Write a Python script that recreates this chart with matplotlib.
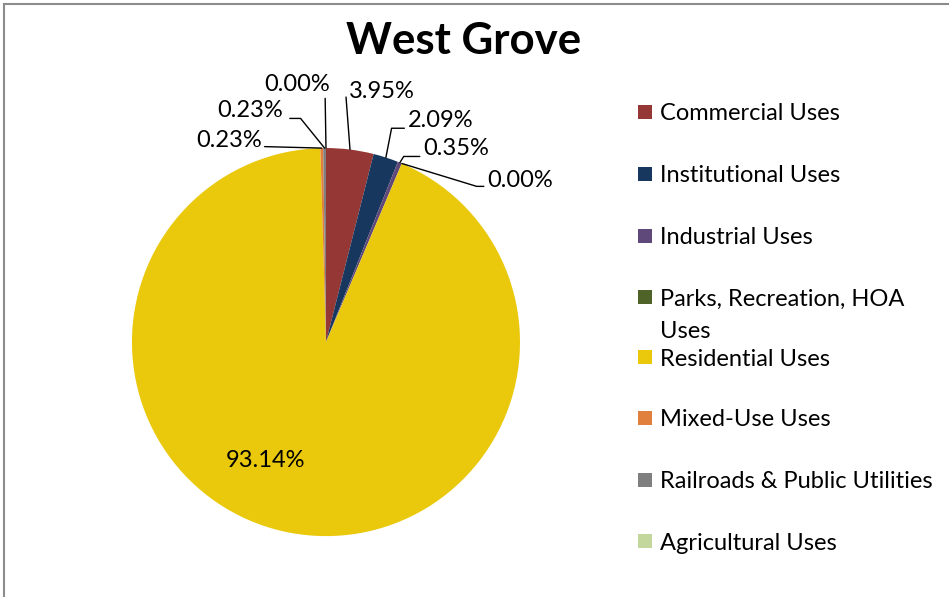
import numpy as np
import matplotlib.pyplot as plt
from matplotlib.patches import Rectangle
from matplotlib.lines import Line2D

plt.rcParams['font.family'] = ['Lato', 'DejaVu Sans']

title = "West Grove"
categories = ["Commercial Uses", "Institutional Uses", "Industrial Uses",
              "Parks, Recreation, HOA\nUses", "Residential Uses", "Mixed-Use Uses",
              "Railroads & Public Utilities", "Agricultural Uses"]
shares = [3.95, 2.09, 0.35, 0.00, 93.14, 0.23, 0.23, 0.00]
colors = ["#953735", "#17375E", "#5F497A", "#4F6228", "#EAC90D", "#E0803C",
          "#7F7F7F", "#C3D69B"]
label_text = ["3.95%", "2.09%", "0.35%", "0.00%", "93.14%", "0.23%", "0.23%", "0.00%"]

# label placement (data units, pie radius = 1)
lbl_x = [0.29, 0.59, 0.67, 1.00, -0.31, -0.50, -0.39, -0.15]
lbl_y = [1.29, 1.14, 1.00, 0.835, -0.61, 1.04, 1.196, 1.325]
# leader settings: relpos on text box, angle of leader at the wedge end (None = straight)
lead_rel = [(-0.05, 0.25), (-0.05, 0.15), (-0.05, 0.1), (-0.05, 0.2), None,
            (1.03, 0.2), (1.1, 0.1), (0.93, -0.1)]
lead_ang = [None, 79, 58, -17, None, None, 129, None]

fig = plt.figure(figsize=(9.49, 5.97), dpi=100)
ax = fig.add_axes([0.139, 0.102, 0.409, 0.650])
wedges, _ = ax.pie(shares, colors=colors, startangle=90, counterclock=False,
                   radius=1.0, wedgeprops=dict(linewidth=0))
ax.set_xlim(-1, 1)
ax.set_ylim(-1, 1)
ax.set_aspect('equal')
ax.axis('off')

for i, w in enumerate(wedges):
    if lead_rel[i] is None:
        ax.text(lbl_x[i], lbl_y[i], label_text[i], ha='center', va='center',
                fontsize=17)
        continue
    mid = np.deg2rad((w.theta1 + w.theta2) / 2)
    anchor = (np.cos(mid), np.sin(mid))
    if lead_ang[i] is None:
        cs = "arc3"
    else:
        cs = "angle,angleA=0,angleB=%d,rad=0" % lead_ang[i]
    ax.annotate(label_text[i], xy=anchor, xytext=(lbl_x[i], lbl_y[i]),
                ha='center', va='center', fontsize=17, annotation_clip=False,
                arrowprops=dict(arrowstyle='-', color='black', lw=1,
                                shrinkA=0, shrinkB=0, relpos=lead_rel[i],
                                connectionstyle=cs))

fig.text(0.488, 0.932, title, ha='center', va='center', fontsize=31.5,
         fontweight='bold')

# legend
leg_y = [112, 174, 236, 297, 357, 418, 480, 541]
for i, name in enumerate(categories):
    yf = 1 - leg_y[i] / 597
    fig.add_artist(Rectangle((638 / 949, yf - 7 / 597), 14 / 949, 14 / 597,
                             facecolor=colors[i], edgecolor='none',
                             transform=fig.transFigure))
    for k, line in enumerate(name.split('\n')):
        fig.text(660 / 949, yf - (k * 32 + 2) / 597, line, ha='left', va='center',
                 fontsize=17)

# chart border (top and left visible)
fig.add_artist(Line2D([4 / 949, 1], [1 - 4 / 597, 1 - 4 / 597], color='#8c8c8c', lw=1.5))
fig.add_artist(Line2D([4 / 949, 4 / 949], [0, 1 - 4 / 597], color='#8c8c8c', lw=1.5))

fig.savefig("out.png", dpi=100)
